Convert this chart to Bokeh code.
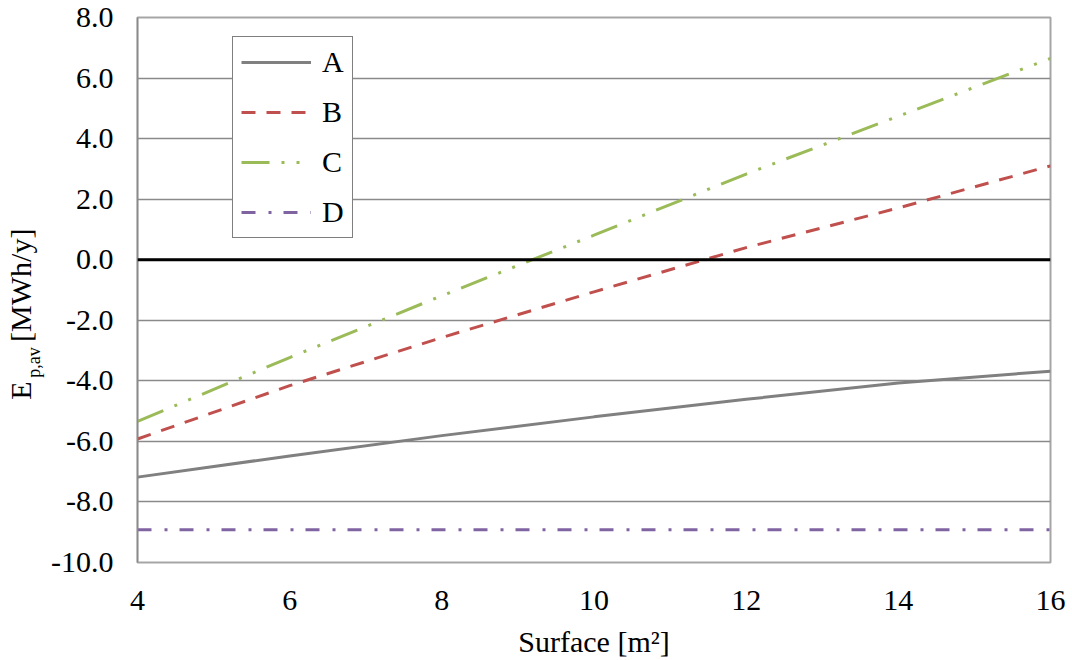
import math
from bokeh.plotting import figure
from bokeh.layouts import row
from bokeh.models import Range1d, FixedTicker, PrintfTickFormatter, Span, Legend, LegendItem
from bokeh.core.properties import value
from bokeh.embed import file_html
from bokeh.resources import INLINE

# ---- data ----
surface = [4, 6, 8, 10, 12, 14, 16]
series_a = [-7.18, -6.48, -5.81, -5.19, -4.61, -4.07, -3.68]
series_b = [-5.92, -4.16, -2.57, -1.06, 0.40, 1.71, 3.10]
series_c = [-5.34, -3.23, -1.19, 0.81, 2.83, 4.74, 6.65]
series_d = [-8.92, -8.92, -8.92, -8.92, -8.92, -8.92, -8.92]
names = ["A", "B", "C", "D"]
x_ticks = [4, 6, 8, 10, 12, 14, 16]
y_ticks = [-10, -8, -6, -4, -2, 0, 2, 4, 6, 8]
x_title = "Surface [m\u00b2]"
y_title_main, y_title_sub, y_title_unit = "E", "p,av", "[MWh/y]"

FONT = "Liberation Serif"
FS = "30px"

X0, X1, Y0, Y1 = 4, 16, -10, 8
W, H = 1072, 660
TITLE_W = 48                      # width of the strip holding the y title
LEFT, RIGHT, TOP, BOTTOM = 135, 1050, 17, 563   # frame edges in page pixels

p = figure(width=W - TITLE_W, height=H, output_backend="svg", toolbar_location=None,
           x_range=Range1d(X0, X1), y_range=Range1d(Y0, Y1),
           min_border_left=LEFT - TITLE_W, min_border_right=W - RIGHT,
           min_border_top=TOP, min_border_bottom=H - BOTTOM)
p.background_fill_color = "white"
p.border_fill_color = "white"
p.outline_line_color = "#a6a6a6"
p.outline_line_width = 2

# grid
p.xgrid.grid_line_color = None
p.ygrid.ticker = FixedTicker(ticks=y_ticks)
p.ygrid.grid_line_color = "#8a8a8a"
p.ygrid.grid_line_width = 1.5

# axes
xa = p.xaxis[0]
ya = p.yaxis[0]
xa.ticker = FixedTicker(ticks=x_ticks)
xa.formatter = PrintfTickFormatter(format="%d")
ya.ticker = FixedTicker(ticks=y_ticks)
ya.formatter = PrintfTickFormatter(format="%.1f")
for ax in (xa, ya):
    ax.major_tick_line_color = None
    ax.minor_tick_line_color = None
    ax.major_tick_out = 0
    ax.major_tick_in = 0
    ax.major_label_text_font = FONT
    ax.major_label_text_font_size = FS
    ax.major_label_text_color = "black"
xa.axis_line_color = None
ya.axis_line_color = "#8a8a8a"
ya.axis_line_width = 1.5
ya.major_label_standoff = 24
xa.major_label_standoff = 28
xa.axis_label = x_title
xa.axis_label_text_font = FONT
xa.axis_label_text_font_size = FS
xa.axis_label_text_font_style = "normal"
xa.axis_label_text_color = "black"
xa.axis_label_standoff = 12

# zero line
p.add_layout(Span(location=0, dimension="width", line_color="black", line_width=3))

# series
ra = p.line(surface, series_a, line_color="#808080", line_width=3)
rb = p.line(surface, series_b, line_color="#c0504d", line_width=3, line_dash="14 11")
rc = p.line(surface, series_c, line_color="#9bbb59", line_width=3, line_dash="28 12 3 12 3 12")
rd = p.line(surface, series_d, line_color="#8064a2", line_width=3, line_dash="14 13 3 12")

legend = Legend(items=[LegendItem(label=n, renderers=[r]) for n, r in zip(names, [ra, rb, rc, rd])],
                location=(230 - LEFT, BOTTOM - 239), orientation="vertical",
                glyph_width=70, glyph_height=30, label_height=30, label_width=22,
                label_standoff=11, spacing=16, padding=8, margin=0,
                label_text_font=FONT, label_text_font_size=FS, label_text_color="black",
                border_line_color="black", border_line_width=1.5,
                background_fill_color="white", background_fill_alpha=1.0)
p.add_layout(legend, "center")

# y axis title strip: E_{p,av} [MWh/y], drawn as rotated text in page-pixel coordinates
t = figure(width=TITLE_W, height=H, output_backend="svg", toolbar_location=None,
           x_range=Range1d(0, TITLE_W), y_range=Range1d(H - BOTTOM, H - TOP),
           min_border_left=0, min_border_right=0,
           min_border_top=TOP, min_border_bottom=H - BOTTOM,
           x_axis_type=None, y_axis_type=None)
t.outline_line_color = None
t.grid.grid_line_color = None
t.background_fill_color = "white"
t.border_fill_color = "white"
common = dict(angle=math.pi / 2, text_align="left", text_baseline="alphabetic",
              text_font=value(FONT), text_color="black")
t.text(x=[20], y=[H - 400], text=[y_title_main], text_font_size=value(FS), **common)
t.text(x=[33], y=[H - 378], text=[y_title_sub], text_font_size=value("18px"), **common)
t.text(x=[20], y=[H - 342], text=[y_title_unit], text_font_size=value(FS), **common)

layout = row(t, p, spacing=0)
open("out.html", "w").write(file_html(layout, INLINE))
